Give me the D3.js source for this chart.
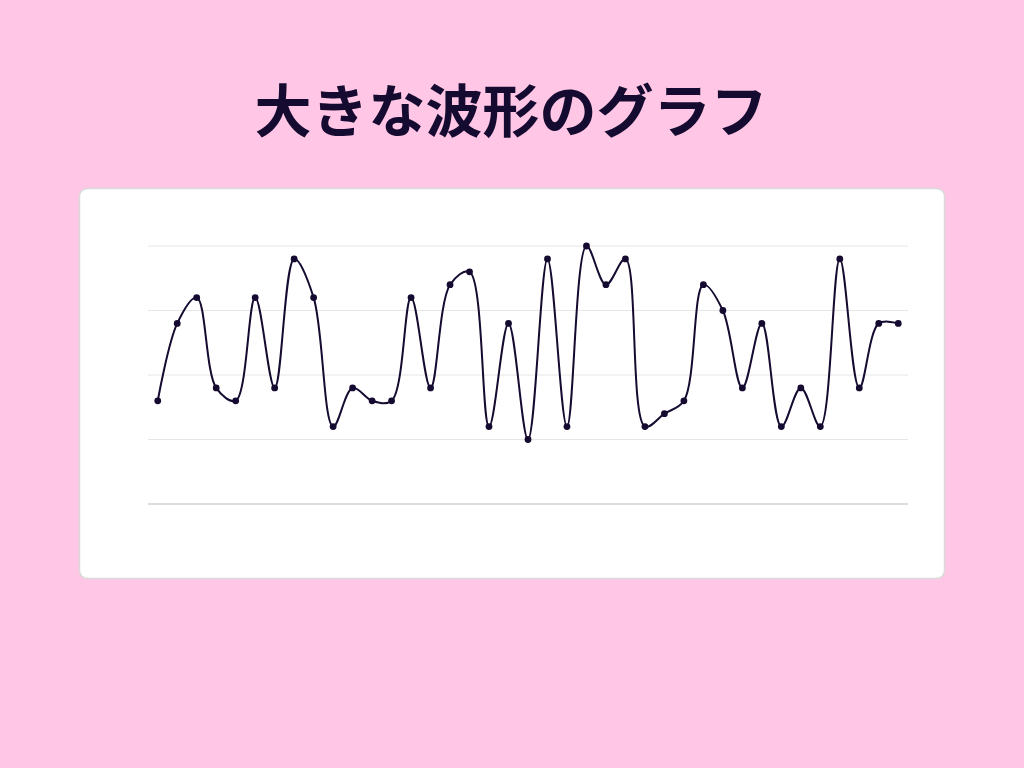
<!DOCTYPE html>
<html lang="ja">
<head>
<meta charset="utf-8">
<script src="https://cdn.jsdelivr.net/npm/d3@7"></script>
<style>
  html, body { margin: 0; padding: 0; background: #ffc6e6; }
  body { width: 1024px; height: 768px; overflow: hidden; }
  svg { display: block; }
</style>
</head>
<body>
<svg id="chart" width="1024" height="768"></svg>
<script>
const title = "大きな波形のグラフ";
const categories = d3.range(1, 40).map(String);
const values = [40, 70, 80, 45, 40, 80, 45, 95, 80, 30,
                45, 40, 40, 80, 45, 85, 90, 30, 70, 25,
                95, 30, 100, 85, 95, 30, 35, 40, 85, 75,
                45, 70, 30, 45, 30, 95, 45, 70, 70];
const yTicks = [0, 25, 50, 75, 100];

const svg = d3.select("#chart");

svg.append("text")
  .attr("x", 511).attr("y", 132)
  .attr("text-anchor", "middle")
  .attr("font-family", "'Noto Sans CJK JP', 'Noto Sans', sans-serif")
  .attr("font-weight", 700)
  .attr("font-size", 57)
  .attr("fill", "#150a30")
  .text(title);

// card
svg.append("rect")
  .attr("x", 79.5).attr("y", 188.5)
  .attr("width", 865).attr("height", 390)
  .attr("rx", 8).attr("ry", 8)
  .attr("fill", "#ffffff")
  .attr("stroke", "#d9d9d9")
  .attr("stroke-width", 1.5);

const x = d3.scalePoint().domain(categories).range([148, 908]).padding(0.5);
const y = d3.scaleLinear().domain([0, 100]).range([504, 246]);

const grid = svg.append("g");
grid.selectAll("line").data(yTicks).join("line")
  .attr("x1", 148).attr("x2", 908)
  .attr("y1", d => y(d)).attr("y2", d => y(d))
  .attr("stroke", d => d === 0 ? "#dcdce0" : "#e6e6e6")
  .attr("stroke-width", d => d === 0 ? 2 : 1);

const line = d3.line()
  .x((d, i) => x(categories[i]))
  .y(d => y(d))
  .curve(d3.curveCatmullRom.alpha(0.5));

svg.append("path")
  .datum(values)
  .attr("d", line)
  .attr("fill", "none")
  .attr("stroke", "#150a30")
  .attr("stroke-width", 2);

svg.append("g").selectAll("circle").data(values).join("circle")
  .attr("cx", (d, i) => x(categories[i]))
  .attr("cy", d => y(d))
  .attr("r", 3.4)
  .attr("fill", "#150a30");
</script>
</body>
</html>
